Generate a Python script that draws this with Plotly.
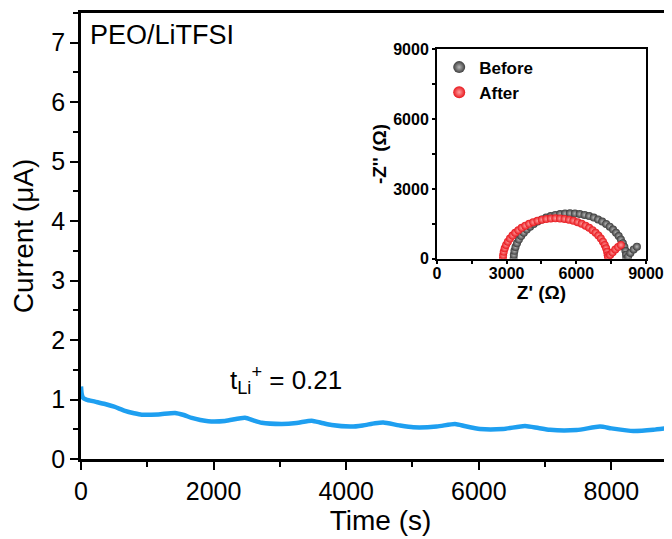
import plotly.graph_objects as go

# Main chronoamperometry curve (Time s, Current uA)
time_s = [0, 10, 30, 80, 211, 362, 500, 663, 800, 915, 1166, 1418, 1550, 1670, 1800, 1920,
          2172, 2474, 2600, 2725, 3027, 3250, 3480, 3620, 3781, 4083, 4250, 4434, 4560,
          4800, 5012, 5365, 5641, 5800, 6018, 6365, 6697, 6900, 7074, 7476, 7828, 8000,
          8330, 8632, 8909, 9030]
current_ua = [1.22, 1.10, 1.03, 1.0, 0.965, 0.925, 0.88, 0.81, 0.77, 0.745, 0.75, 0.775, 0.74,
              0.69, 0.655, 0.635, 0.64, 0.695, 0.65, 0.61, 0.59, 0.605, 0.645, 0.61, 0.57,
              0.545, 0.565, 0.60, 0.612, 0.565, 0.533, 0.545, 0.59, 0.55, 0.505, 0.505, 0.555,
              0.52, 0.49, 0.488, 0.545, 0.515, 0.47, 0.49, 0.527, 0.54]

# Inset EIS (Z', -Z'')
before_zre = [3300, 3310, 3336, 3382, 3445, 3528, 3625, 3739, 3867, 4011, 4166, 4333, 4512,
              4699, 4896, 5097, 5303, 5514, 5725, 5940, 6146, 6354, 6554, 6750, 6938, 7115,
              7284, 7440, 7583, 7710, 7825, 7920, 8004, 8070, 8114, 8141, 8150, 8230, 8330,
              8470, 8610]
before_zim = [0, 170, 339, 505, 667, 825, 975, 1119, 1254, 1379, 1494, 1597, 1689, 1767,
              1833, 1884, 1921, 1942, 1950, 1942, 1921, 1884, 1833, 1767, 1689, 1597, 1494,
              1379, 1254, 1119, 975, 825, 667, 505, 339, 170, 0, 90, 250, 400, 520]
after_zre = [2840, 2849, 2874, 2917, 2976, 3052, 3143, 3249, 3369, 3502, 3647, 3803, 3970,
             4144, 4327, 4515, 4707, 4903, 5100, 5297, 5493, 5685, 5873, 6056, 6230, 6397,
             6553, 6698, 6831, 6951, 7057, 7148, 7224, 7283, 7326, 7351, 7370, 7455, 7560,
             7680, 7800, 7920]
after_zim = [0, 151, 302, 450, 594, 734, 868, 996, 1116, 1227, 1330, 1422, 1503, 1573, 1632,
             1677, 1710, 1729, 1736, 1729, 1710, 1677, 1632, 1573, 1503, 1422, 1330, 1227,
             1116, 996, 868, 734, 594, 450, 302, 151, 60, 160, 270, 400, 500, 590]

main_xticks = [0, 2000, 4000, 6000, 8000]
main_yticks = [0, 1, 2, 3, 4, 5, 6, 7]
inset_ticks = [0, 3000, 6000, 9000]

FONT = "Arial, Liberation Sans, sans-serif"

fig = go.Figure()
fig.add_trace(go.Scatter(x=time_s, y=current_ua, mode="lines",
                         line=dict(color="#1e9ff0", width=4.5, shape="spline", smoothing=0.6),
                         showlegend=False, xaxis="x", yaxis="y"))
fig.add_trace(go.Scatter(x=before_zre, y=before_zim, mode="markers", name="Before",
                         marker=dict(size=8, color="#3c3c3c",
                                     gradient=dict(type="radial", color="#b8b8b8"),
                                     line=dict(width=0)),
                         xaxis="x2", yaxis="y2"))
fig.add_trace(go.Scatter(x=after_zre, y=after_zim, mode="markers", name="After",
                         marker=dict(size=8, color="#e8171d",
                                     gradient=dict(type="radial", color="#ffa0a0"),
                                     line=dict(width=0)),
                         xaxis="x2", yaxis="y2"))

fig.update_layout(
    width=672, height=539,
    margin=dict(l=73, r=0, t=5, b=88),
    paper_bgcolor="white", plot_bgcolor="white",
    font=dict(family=FONT, color="black"),
    xaxis=dict(range=[0, 9035], tickvals=main_xticks, showline=True, linecolor="black",
               linewidth=2.5, mirror=True, ticks="outside", ticklen=8, tickwidth=2,
               tickcolor="black", tickfont=dict(size=25), showgrid=False, zeroline=False,
               automargin=False,
               minor=dict(dtick=1000, ticks="outside", ticklen=5, tickwidth=2, tickcolor="black"),
               title=dict(text="Time (s)", font=dict(size=28), standoff=0)),
    yaxis=dict(range=[0, 7.5], tickvals=main_yticks, showline=True, linecolor="black",
               linewidth=2.5, ticks="outside", ticklen=8, tickwidth=2, tickcolor="black",
               tickfont=dict(size=25), showgrid=False, zeroline=False, automargin=False,
               minor=dict(dtick=0.5, ticks="outside", ticklen=5, tickwidth=2, tickcolor="black"),
               title=dict(text="Current (μA)", font=dict(size=28), standoff=10)),
    xaxis2=dict(domain=[0.5943, 0.9432], anchor="y2", range=[0, 9000], tickvals=inset_ticks,
                showline=True, linecolor="black", linewidth=2, mirror=True, ticks="outside",
                ticklen=3, tickwidth=1.5, tickcolor="black", automargin=False,
                tickfont=dict(size=16, weight="bold"), ticklabelstandoff=-4,
                showgrid=False, zeroline=False,
                minor=dict(dtick=1500, ticks="outside", ticklen=3, tickwidth=1.5, tickcolor="black"),
                title=dict(text="Z' (Ω)", font=dict(size=19, weight="bold"), standoff=0)),
    yaxis2=dict(domain=[0.449, 0.9186], anchor="x2", range=[0, 9000], tickvals=inset_ticks,
                showline=True, linecolor="black", linewidth=2, mirror=True, ticks="outside",
                ticklen=3, tickwidth=1.5, tickcolor="black", automargin=False,
                tickfont=dict(size=16, weight="bold"), showgrid=False, zeroline=False,
                minor=dict(dtick=1500, ticks="outside", ticklen=3, tickwidth=1.5, tickcolor="black"),
                title=dict(text="-Z'' (Ω)", font=dict(size=19, weight="bold"), standoff=2)),
    legend=dict(x=0.598, y=0.918, xanchor="left", yanchor="top", bgcolor="rgba(0,0,0,0)",
                font=dict(size=17, weight="bold"), itemsizing="constant", tracegroupgap=0,
                itemwidth=30),
)

fig.add_annotation(text="PEO/LiTFSI", xref="paper", yref="paper", x=0.012, y=0.9507,
                   xanchor="left", yanchor="middle", showarrow=False, font=dict(size=27))
fig.add_annotation(text="t<sub>Li</sub><sup>+</sup> = 0.21", xref="x", yref="y", x=2210, y=1.33,
                   xanchor="left", yanchor="middle", showarrow=False, font=dict(size=26))

fig.write_html("out.html")
